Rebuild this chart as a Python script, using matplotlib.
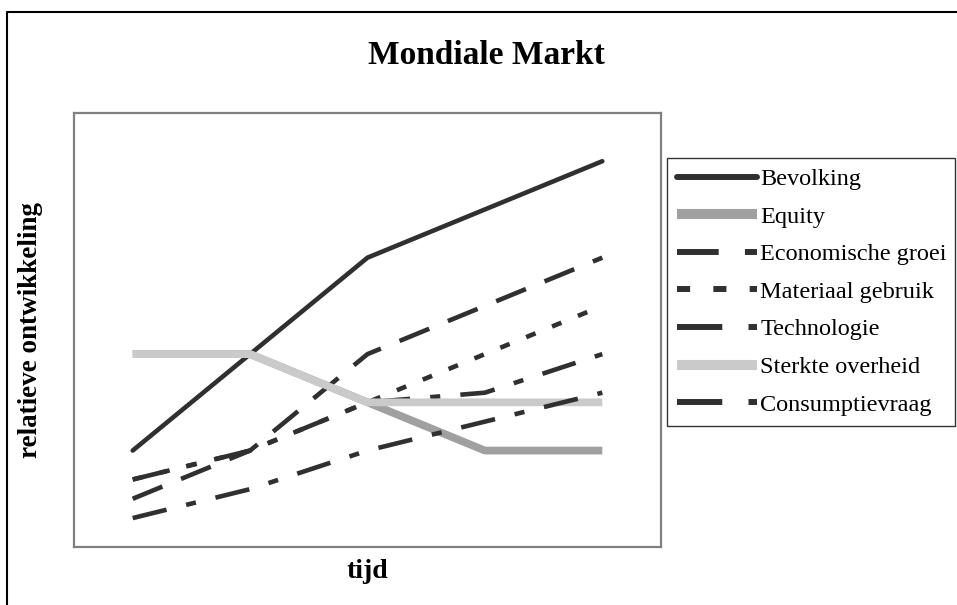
import matplotlib
matplotlib.use("Agg")
import matplotlib.pyplot as plt
from matplotlib.lines import Line2D

plt.rcParams['font.family'] = ['Liberation Serif', 'DejaVu Serif']

# =============================================================================
# DATA (relatieve ontwikkeling per tijdstap)
# =============================================================================
tijd = [0, 1, 2, 3, 4]

bevolking = [2.0, 4.0, 6.0, 7.0, 8.0]
equity = [4.0, 4.0, 3.0, 2.0, 2.0]
economische_groei = [1.0, 2.0, 4.0, 5.0, 6.0]
materiaal_gebruik = [1.4, 2.0, 3.0, 4.0, 5.0]
technologie = [1.4, 2.0, 3.0, 3.2, 4.0]
sterkte_overheid = [4.0, 4.0, 3.0, 3.0, 3.0]
consumptievraag = [0.6, 1.2, 2.0, 2.6, 3.2]

labels = ['Bevolking', 'Equity', 'Economische groei', 'Materiaal gebruik',
          'Technologie', 'Sterkte overheid', 'Consumptievraag']

# =============================================================================
# STIJLEN
# =============================================================================
DARK = '#303030'
LW = 3.3
LW_GRAY = 5.6

fig = plt.figure(figsize=(9.57, 6.05), dpi=100)
ax = fig.add_axes([74 / 957, 1 - 547 / 605, 587 / 957, 434 / 605])

ax.plot(tijd, bevolking, color=DARK, lw=LW, solid_capstyle='round',
        label=labels[0])
ax.plot(tijd, equity, color='#a0a0a0', lw=LW_GRAY, solid_capstyle='butt',
        label=labels[1])
ax.plot(tijd, economische_groei, color=DARK, lw=LW, dashes=(7, 4.4),
        label=labels[2])
ax.plot(tijd, materiaal_gebruik, color=DARK, lw=LW, dashes=(2.2, 3.9),
        label=labels[3])
ax.plot(tijd, technologie, color=DARK, lw=LW, dashes=(7.6, 4.4, 2.2, 4.4),
        label=labels[4])
ax.plot(tijd, sterkte_overheid, color='#cacaca', lw=LW_GRAY,
        solid_capstyle='butt', label=labels[5])
ax.plot(tijd, consumptievraag, color=DARK, lw=LW, dashes=(7.6, 4.4, 2.2, 4.4),
        label=labels[6])

ax.set_xlim(-0.5, 4.5)
ax.set_ylim(0, 9)
ax.set_xticks([])
ax.set_yticks([])
for sp in ax.spines.values():
    sp.set_color('#808080')
    sp.set_linewidth(1.6)

ax.set_xlabel('tijd', fontsize=20, fontweight='bold', labelpad=9)
ax.set_ylabel('relatieve ontwikkeling', fontsize=19.5, fontweight='bold',
              labelpad=22)
fig.text(486 / 957, 1 - 55 / 605, 'Mondiale Markt', fontsize=24,
         fontweight='bold', ha='center', va='center')

# Legenda
leg = fig.legend(loc='upper left',
                 bbox_to_anchor=(667 / 957, 1 - 158 / 605, 288 / 957, 0.0),
                 mode='expand', bbox_transform=fig.transFigure,
                 fontsize=17.5, frameon=True, fancybox=False,
                 handlelength=3.3, handletextpad=0.12, labelspacing=0.64,
                 borderpad=0.42, borderaxespad=0.0)
leg.get_frame().set_edgecolor('black')
leg.get_frame().set_linewidth(1.0)
for h in leg.get_lines():
    h.set_linewidth(h.get_linewidth() * 1.3)

# Buitenrand van de figuur (alleen links en boven zichtbaar)
fig.add_artist(Line2D([7 / 957, 7 / 957, 1.0], [0.0, 1 - 12 / 605, 1 - 12 / 605],
                      transform=fig.transFigure, color='black', lw=1.5))

fig.savefig('out.png', dpi=100)
